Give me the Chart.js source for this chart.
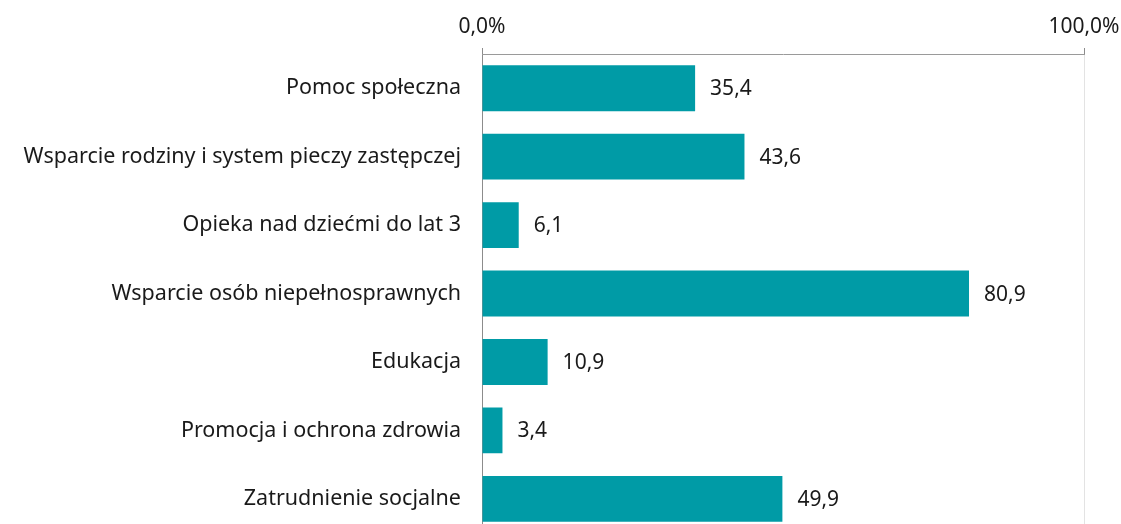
<!DOCTYPE html>
<html>
<head>
<meta charset="utf-8">
<script src="https://cdn.jsdelivr.net/npm/chart.js@4"></script>
<style>
  html, body { margin: 0; padding: 0; background: #fff; overflow: hidden; }
  canvas { display: block; }
</style>
</head>
<body>
<canvas id="myChart" width="1121" height="567"></canvas>
<script>
const kategorie = [
    'Pomoc społeczna',
    'Wsparcie rodziny i system pieczy zastępczej',
    'Opieka nad dziećmi do lat 3',
    'Wsparcie osób niepełnosprawnych',
    'Edukacja',
    'Promocja i ochrona zdrowia',
    'Zatrudnienie socjalne'
];
const wartosci = [35.4, 43.6, 6.1, 80.9, 10.9, 3.4, 49.9];
const osX = [0, 100];

const FONT = '"Noto Sans", sans-serif';

// etykiety z wartosciami przy koncach slupkow
const etykietyPlugin = {
    id: 'etykiety',
    afterDatasetsDraw(chart) {
        const ctx = chart.ctx;
        const meta = chart.getDatasetMeta(0);
        ctx.save();
        ctx.font = '21px ' + FONT;
        ctx.fillStyle = '#1a1a1a';
        ctx.textBaseline = 'middle';
        ctx.textAlign = 'left';
        meta.data.forEach(function (bar, i) {
            ctx.fillText(wartosci[i].toFixed(1).replace('.', ','), bar.x + 15, bar.y + 1);
        });
        ctx.restore();
    }
};

const ctx = document.getElementById('myChart').getContext('2d');
new Chart(ctx, {
    type: 'bar',
    data: {
        labels: kategorie,
        datasets: [{
            data: wartosci,
            backgroundColor: '#009ba6',
            borderWidth: 0,
            barPercentage: 0.67,
            categoryPercentage: 1
        }]
    },
    options: {
        indexAxis: 'y',
        responsive: false,
        animation: false,
        layout: { padding: { right: 37, left: 0, top: 0, bottom: 0 } },
        plugins: {
            legend: { display: false },
            tooltip: { enabled: false }
        },
        scales: {
            x: {
                position: 'top',
                min: 0,
                max: 100,
                afterBuildTicks: function (axis) {
                    axis.ticks = osX.map(v => ({ value: v }));
                },
                afterFit: function (axis) {
                    axis.height = 54;
                    axis.paddingLeft = 0;
                    axis.paddingRight = 0;
                },
                ticks: {
                    color: '#1a1a1a',
                    font: { family: FONT, size: 21 },
                    padding: 8,
                    maxRotation: 0,
                    callback: v => v.toFixed(1).replace('.', ',') + '%'
                },
                grid: {
                    color: c => c.index === 0 ? '#8c8c8c' : '#e3e3e3',
                    tickColor: '#8c8c8c',
                    tickLength: 6,
                    drawOnChartArea: true
                },
                border: { display: true, color: '#9a9a9a', width: 1 }
            },
            y: {
                afterFit: function (axis) { axis.width = 482; },
                ticks: {
                    color: '#1a1a1a',
                    font: { family: FONT, size: 21.5 },
                    padding: 21
                },
                grid: { display: false, drawTicks: false },
                border: { display: false }
            }
        }
    },
    plugins: [etykietyPlugin]
});
</script>
</body>
</html>
